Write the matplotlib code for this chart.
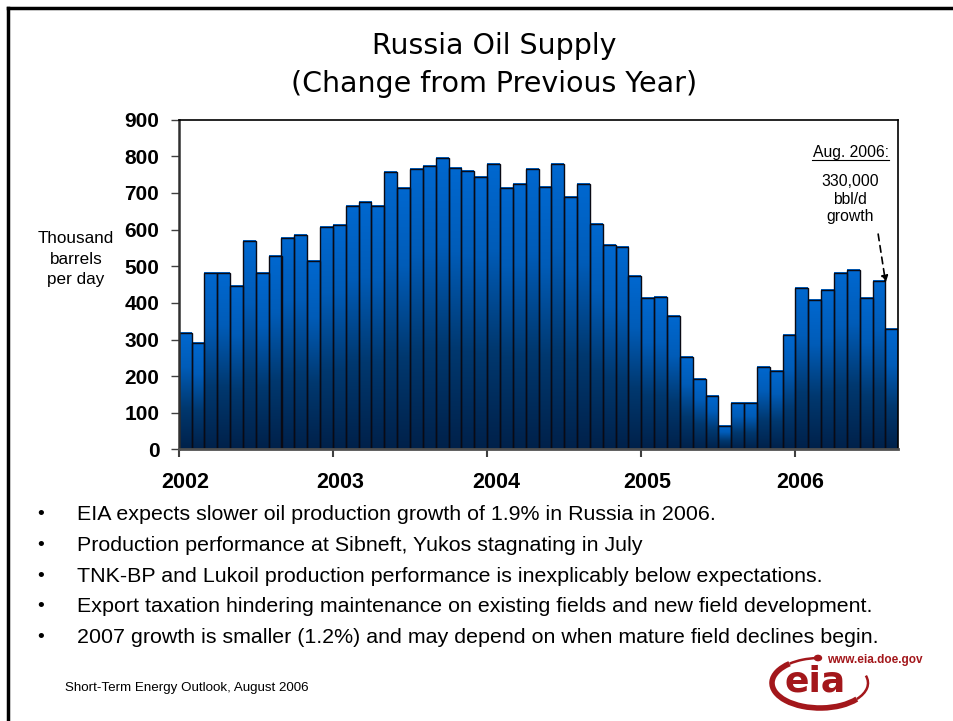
import numpy as np
import matplotlib
matplotlib.use("Agg")
import matplotlib.pyplot as plt
from matplotlib.colors import LinearSegmentedColormap
from matplotlib.patches import Arc, Circle
from matplotlib.lines import Line2D

# monthly change in Russian oil supply vs. same month a year earlier (thousand bbl/d)
months = 56  # Jan 2002 .. Aug 2006
supply_change = [
    319, 290, 481, 481, 447, 569, 481, 528, 578, 584, 515, 606,   # 2002
    613, 663, 675, 663, 756, 713, 766, 772, 794, 769, 760, 742,   # 2003
    778, 713, 725, 766, 715, 778, 688, 723, 616, 559, 551, 472,   # 2004
    412, 415, 363, 251, 191, 145, 65, 128, 128, 224, 215, 313,    # 2005
    440, 409, 434, 481, 490, 412, 459, 330,                       # 2006
]
years = ["2002", "2003", "2004", "2005", "2006"]
yticks = list(range(0, 901, 100))

bullets = [
    "EIA expects slower oil production growth of 1.9% in Russia in 2006.",
    "Production performance at Sibneft, Yukos stagnating in July",
    "TNK-BP and Lukoil production performance is inexplicably below expectations.",
    "Export taxation hindering maintenance on existing fields and new field development.",
    "2007 growth is smaller (1.2%) and may depend on when mature field declines begin.",
]

plt.rcParams['font.family'] = ['Liberation Sans', 'DejaVu Sans']

W, H = 954, 721
fig = plt.figure(figsize=(W / 100, H / 100), dpi=100)
fig.patch.set_facecolor("white")

def px(x, y):
    return x / W, 1 - y / H

# slide frame (top and left edges)
fig.add_artist(Line2D([8 / W, 1], [1 - 8 / H, 1 - 8 / H], color="black", lw=2.5))
fig.add_artist(Line2D([8 / W, 8 / W], [0, 1 - 8 / H], color="black", lw=2.5))

ax = fig.add_axes([178.7 / W, 1 - 449.5 / H, 719.6 / W, 330 / H])

# bar fill: bright blue at the top fading to navy at the base
cmap = LinearSegmentedColormap.from_list(
    "bars", [(0, "#00214a"), (0.35, "#00386f"), (0.7, "#005cb8"), (1, "#0068d0")])
grad = np.linspace(0, 1, 256).reshape(-1, 1)
for i, v in enumerate(supply_change):
    ax.imshow(grad, extent=(i, i + 1, 0, v), origin="lower", aspect="auto",
              cmap=cmap, zorder=2, interpolation="bilinear")
ax.bar(np.arange(months) + 0.5, supply_change, width=1.0, fill=False,
       edgecolor="#0a0a14", linewidth=1.0, zorder=3)

ax.set_xlim(0, months)
ax.set_ylim(0, 900)
ax.set_yticks(yticks)
ax.set_yticklabels([str(t) for t in yticks], fontsize=15, fontweight="bold")
ax.set_xticks([0, 12, 24, 36, 48])
ax.set_xticklabels([])
ax.set_xticks([0.5, 12.55, 24.75, 36.5, 48.4], minor=True)
ax.set_xticklabels(years, minor=True, fontsize=15.5, fontweight="bold")
ax.tick_params(axis="x", which="major", length=6, width=1.5, color="#404040", direction="out")
ax.tick_params(axis="x", which="minor", length=0, pad=16)
ax.tick_params(axis="y", length=6, width=1, color="#404040", pad=8)
for side in ["top", "right"]:
    ax.spines[side].set_linewidth(1.2)
    ax.spines[side].set_color("black")
ax.spines["left"].set_linewidth(1.8)
ax.spines["left"].set_color("#303030")
ax.spines["bottom"].set_linewidth(2)
ax.spines["bottom"].set_color("#505050")
for s in ax.spines.values():
    s.set_zorder(4)

# Aug. 2006 callout
ax.annotate("", xy=(55.05, 447), xytext=(54.4, 595),
            arrowprops=dict(arrowstyle="-|>", color="black", lw=1.2,
                            linestyle=(0, (4, 3)), mutation_scale=10), zorder=5)

fig.text(*px(851, 152), "Aug. 2006:", ha="center", va="center", fontsize=11.3)
fig.add_artist(Line2D([812 / W, 889 / W], [1 - 159.5 / H, 1 - 159.5 / H], color="black", lw=0.8))
fig.text(*px(850, 199), "330,000\nbbl/d\ngrowth", ha="center", va="center",
         fontsize=11.3, linespacing=1.25)

# titles and labels
fig.text(*px(494, 46), "Russia Oil Supply", ha="center", va="center",
         fontsize=20.5, family="DejaVu Sans")
fig.text(*px(494, 84), "(Change from Previous Year)", ha="center", va="center",
         fontsize=20.5, family="DejaVu Sans")
fig.text(*px(76, 259), "Thousand\nbarrels\nper day", ha="center", va="center",
         fontsize=12.3, linespacing=1.42)

for k, line in enumerate(bullets):
    y = 514.5 + k * 30.8
    fig.text(*px(41, y), "\u2022", ha="center", va="center", fontsize=14)
    fig.text(*px(77, y), line, ha="left", va="center", fontsize=15.4)

fig.text(*px(65, 688), "Short-Term Energy Outlook, August 2006", ha="left",
         va="center", fontsize=9.6)

# EIA logo
red = "#a3171b"
fig.text(*px(815, 691), "eia", ha="center", va="baseline", fontsize=26,
         fontweight="heavy", color=red, family="DejaVu Sans")
logo_c = px(820, 683)
for t1, t2, lw in [(95, 140, 1.8), (140, 330, 4), (330, 372, 1.8)]:
    fig.add_artist(Arc(logo_c, 96 / W, 50 / H, theta1=t1, theta2=t2,
                       transform=fig.transFigure, color=red, lw=lw))
fig.add_artist(Circle(px(818, 658), 3.5 / W, transform=fig.transFigure, color=red))
fig.text(*px(827, 660), "www.eia.doe.gov", ha="left", va="center", fontsize=8.5,
         fontweight="bold", color=red)

fig.savefig("out.png", dpi=100)
